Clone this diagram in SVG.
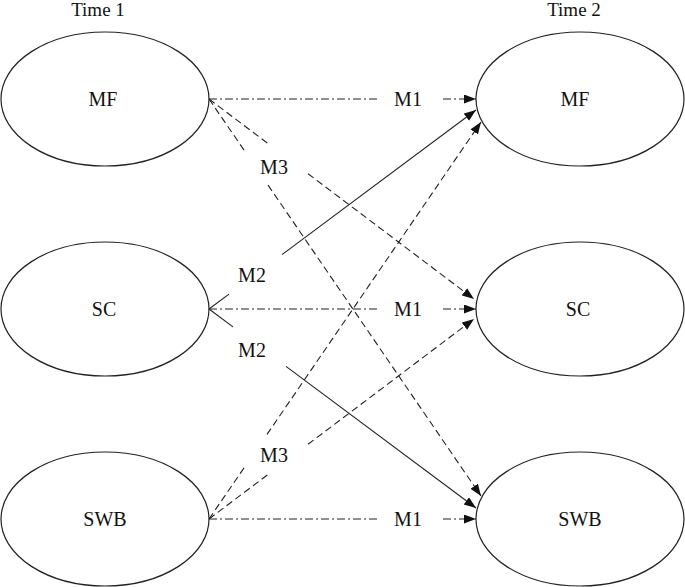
<svg xmlns="http://www.w3.org/2000/svg" width="685" height="587" viewBox="0 0 685 587">
<defs>
<marker id="arr" markerUnits="userSpaceOnUse" markerWidth="13" markerHeight="10" refX="12" refY="4.5" orient="auto">
<path d="M0,0 L12,4.5 L0,9 z" fill="#111"/>
</marker>
</defs>
<style>
.node ellipse{fill:#fff;stroke:#222;stroke-width:1.2}
text{font-family:"Liberation Serif","Times New Roman",serif;font-size:20px;fill:#111;text-anchor:middle}
.hd{font-size:19px}
.dd{fill:none;stroke:#222;stroke-width:1.1;stroke-dasharray:8 3 2 3}
.ds{fill:none;stroke:#222;stroke-width:1.1;stroke-dasharray:7 4}
.so{fill:none;stroke:#222;stroke-width:1.1}
</style>
<rect width="685" height="587" fill="#fff"/>
<text class="hd" x="98" y="16">Time 1</text>
<text class="hd" x="574" y="16">Time 2</text>
<g id="mf1" class="node"><ellipse cx="105" cy="99" rx="104" ry="67"/><text x="103" y="106">MF</text></g>
<g id="sc1" class="node"><ellipse cx="105" cy="309" rx="104" ry="67"/><text x="104" y="316">SC</text></g>
<g id="swb1" class="node"><ellipse cx="105" cy="519" rx="104" ry="67"/><text x="105" y="526">SWB</text></g>
<g id="mf2" class="node"><ellipse cx="580" cy="99" rx="104" ry="67"/><text x="575" y="106">MF</text></g>
<g id="sc2" class="node"><ellipse cx="580" cy="309" rx="104" ry="67"/><text x="578" y="316">SC</text></g>
<g id="swb2" class="node"><ellipse cx="580" cy="519" rx="104" ry="67"/><text x="580" y="526">SWB</text></g>
<g id="connectors">
<line class="dd" x1="209" y1="99" x2="380" y2="99"/>
<line class="dd" x1="443" y1="99" x2="476" y2="99" marker-end="url(#arr)"/>
<line class="dd" x1="209" y1="309" x2="380" y2="309"/>
<line class="dd" x1="443" y1="309" x2="476" y2="309" marker-end="url(#arr)"/>
<line class="dd" x1="209" y1="519" x2="380" y2="519"/>
<line class="dd" x1="443" y1="519" x2="476" y2="519" marker-end="url(#arr)"/>
<line class="ds" x1="209" y1="99" x2="269" y2="144.3"/>
<line class="ds" x1="308" y1="173.7" x2="474" y2="299" marker-end="url(#arr)"/>
<line class="ds" x1="209" y1="99" x2="245" y2="151.5"/>
<line class="ds" x1="268" y1="185.1" x2="481" y2="496" marker-end="url(#arr)"/>
<line class="ds" x1="209" y1="519" x2="245" y2="466.5"/>
<line class="ds" x1="267" y1="434.4" x2="481" y2="122" marker-end="url(#arr)"/>
<line class="ds" x1="209" y1="519" x2="268" y2="474.5"/>
<line class="ds" x1="308" y1="444.3" x2="474" y2="319" marker-end="url(#arr)"/>
<line class="so" x1="209" y1="309" x2="229" y2="294.1"/>
<line class="so" x1="282" y1="254.6" x2="476" y2="110" marker-end="url(#arr)"/>
<line class="so" x1="209" y1="309" x2="233" y2="326.9"/>
<line class="so" x1="286" y1="366.4" x2="476" y2="508" marker-end="url(#arr)"/>
<text x="408" y="106">M1</text>
<text x="408" y="316">M1</text>
<text x="408" y="526">M1</text>
<text x="274" y="174">M3</text>
<text x="274" y="462">M3</text>
<text x="252" y="282">M2</text>
<text x="252" y="357">M2</text>
</g>
</svg>
